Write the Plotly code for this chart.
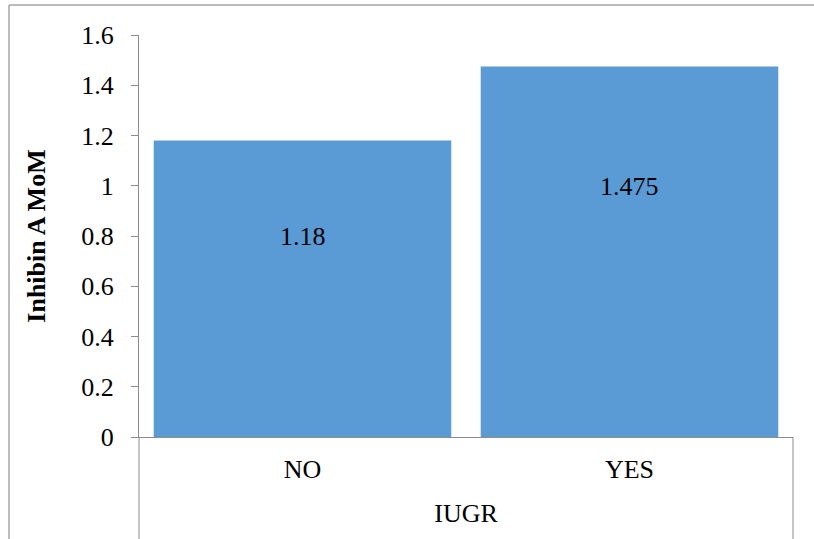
import plotly.graph_objects as go

categories = ["NO", "YES"]
values = [1.18, 1.475]
value_labels = ["1.18", "1.475"]
y_ticks = [0, 0.2, 0.4, 0.6, 0.8, 1.0, 1.2, 1.4, 1.6]
y_tick_text = ["0", "0.2", "0.4", "0.6", "0.8", "1", "1.2", "1.4", "1.6"]
x_title = "IUGR"
y_title = "Inhibin A MoM"

W, H = 814, 539
L, R, T, B = 139, 21, 35, 102
pw, ph = W - L - R, H - T - B

def px(x):
    return (x - L) / pw

def py(y):
    return (H - B - y) / ph

FONT = "Liberation Serif"
FS = 26
GRAY = "#8c8c8c"

fig = go.Figure()
fig.add_trace(go.Bar(
    x=categories, y=values, marker=dict(color="#5B9BD5", line=dict(width=0)),
    width=0.91, showlegend=False, hoverinfo="skip",
))

for c, v, t in zip(categories, values, value_labels):
    fig.add_annotation(x=c, y=v * 0.675, text=t, showarrow=False,
                       font=dict(family=FONT, size=FS, color="black"))

shapes = [
    dict(type="line", xref="paper", yref="paper", x0=px(9), x1=px(816), y0=py(5), y1=py(5),
         line=dict(color="#a6a6a6", width=1.5)),
    dict(type="line", xref="paper", yref="paper", x0=px(9), x1=px(9), y0=py(5), y1=py(545),
         line=dict(color="#a6a6a6", width=1.5)),
    dict(type="line", xref="paper", yref="paper", x0=0, x1=0, y0=0, y1=py(545),
         line=dict(color=GRAY, width=1)),
    dict(type="line", xref="paper", yref="paper", x0=1, x1=1, y0=0, y1=py(545),
         line=dict(color=GRAY, width=1)),
]

fig.update_layout(
    width=W, height=H,
    margin=dict(l=L, r=R, t=T, b=B),
    paper_bgcolor="white", plot_bgcolor="white",
    font=dict(family=FONT, size=FS, color="black"),
    bargap=0.09,
    shapes=shapes,
    xaxis=dict(
        showline=True, linecolor=GRAY, linewidth=1, ticks="", showgrid=False,
        tickfont=dict(family=FONT, size=FS, color="black"),
        ticklabelstandoff=9,
        title=dict(text=x_title, font=dict(family=FONT, size=FS, color="black"), standoff=20),
    ),
    yaxis=dict(
        range=[0, 1.6], tickvals=y_ticks, ticktext=y_tick_text,
        showline=True, linecolor=GRAY, linewidth=1, ticks="outside", ticklen=7,
        tickcolor=GRAY, showgrid=False, zeroline=False,
        tickfont=dict(family=FONT, size=FS, color="black"),
        ticklabelstandoff=12,
        title=dict(text="<b>" + y_title + "</b>", font=dict(family=FONT, size=FS, color="black"),
                   standoff=28),
    ),
)

fig.write_html("out.html")
